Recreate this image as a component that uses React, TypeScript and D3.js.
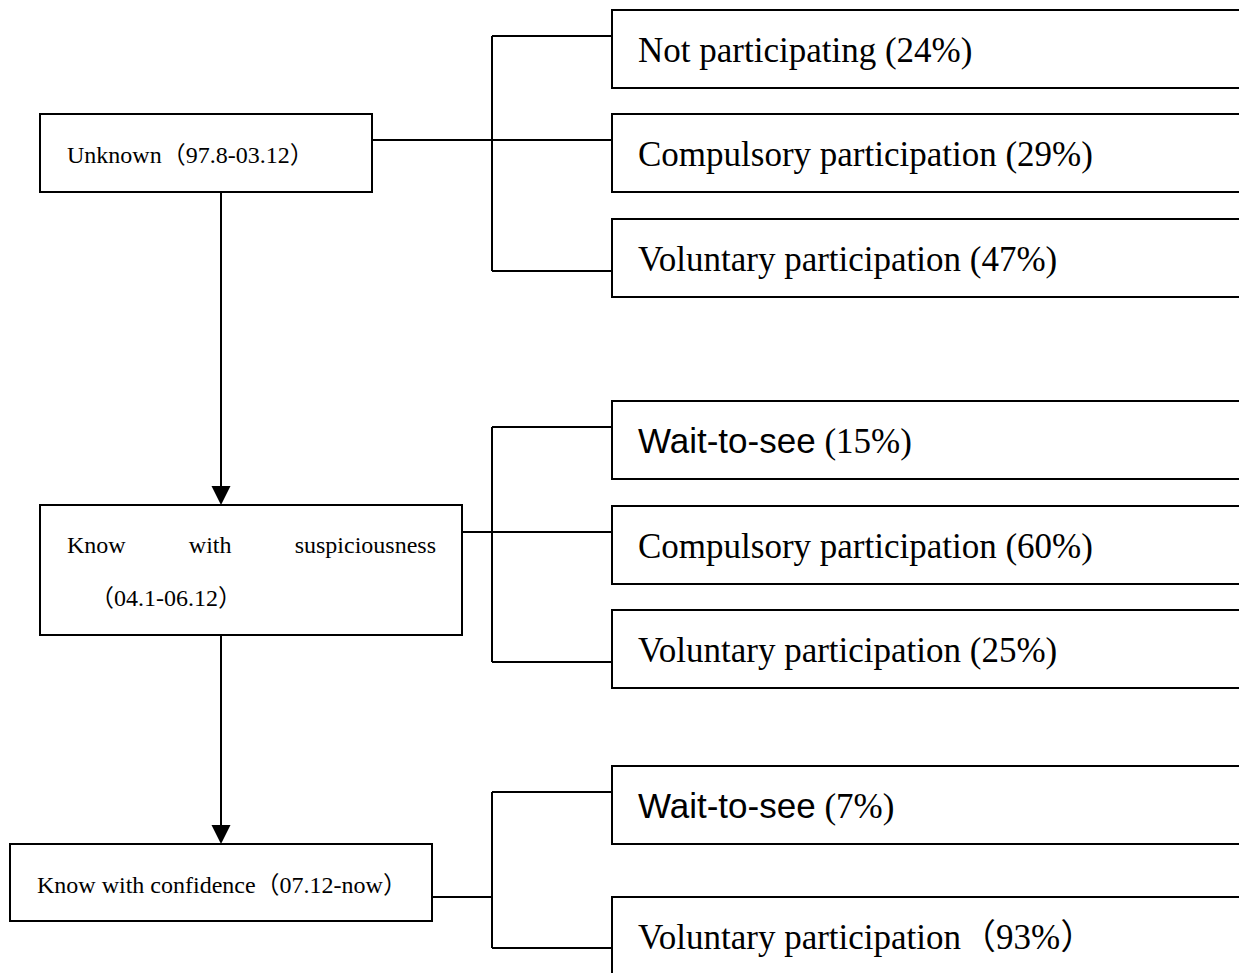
import React from "react";
import * as d3 from "d3";

// ---- data ----
const stageNames = ["Unknown", "Know with suspiciousness", "Know with confidence"];
const stagePeriods = ["97.8-03.12", "04.1-06.12", "07.12-now"];
const outcomeNames = [
  ["Not participating", "Compulsory participation", "Voluntary participation"],
  ["Wait-to-see", "Compulsory participation", "Voluntary participation"],
  ["Wait-to-see", "Voluntary participation"],
];
const outcomeShares = [
  [24, 29, 47],
  [15, 60, 25],
  [7, 93],
];
// last stage uses full-width brackets in the original
const fullWidthBrackets = [false, false, true];

// ---- layout ----
const W = 1239;
const H = 973;
const SERIF = "'Times New Roman', 'Liberation Serif', 'Noto Sans CJK SC', serif";
const SANS = "Arial, 'Liberation Sans', sans-serif";
const stageBoxes = [
  { x: 40, y: 114, w: 332, h: 78, lines: 1 },
  { x: 40, y: 505, w: 422, h: 130, lines: 2 },
  { x: 10, y: 844, w: 422, h: 77, lines: 1 },
];
const stageLinkY = [140, 532, 897];
const outcomeTops = [
  [10, 114, 219],
  [401, 506, 610],
  [766, 897],
];
const outcomeLinkY = [
  [36, 140, 271],
  [427, 532, 662],
  [792, 948],
];
const bracketX = 492;
const outX = 612;
const outH = 78;
const arrowX = 221;

function measure(text: string, font: string) {
  const c = document.createElement("canvas").getContext("2d");
  if (!c) return text.length * 12;
  c.font = font;
  return c.measureText(text).width;
}

export default function App() {
  const line = d3.line<[number, number]>();
  const leftFont = 24;
  const rightFont = 35;

  const arrowHead = (tipY: number) => {
    const p = d3.path();
    p.moveTo(arrowX, tipY);
    p.lineTo(arrowX - 9.5, tipY - 19);
    p.lineTo(arrowX + 9.5, tipY - 19);
    p.closePath();
    return p.toString();
  };

  return (
    <svg
      width={W}
      height={H}
      style={{ position: "absolute", left: 0, top: 0, background: "#fff" }}
    >
      {/* arrows between stages */}
      {stageBoxes.slice(0, -1).map((b, i) => {
        const next = stageBoxes[i + 1];
        return (
          <g key={"arr" + i}>
            <path
              d={line([[arrowX, b.y + b.h], [arrowX, next.y - 18]]) || ""}
              stroke="#000"
              strokeWidth={2}
              fill="none"
            />
            <path d={arrowHead(next.y)} fill="#000" />
          </g>
        );
      })}

      {stageBoxes.map((b, i) => {
        const ys = outcomeLinkY[i];
        const top = d3.min(ys) as number;
        const bot = d3.max(ys) as number;
        return (
          <g key={"st" + i}>
            {/* bracket */}
            <path
              d={line([[b.x + b.w, stageLinkY[i]], [bracketX, stageLinkY[i]]]) || ""}
              stroke="#000"
              strokeWidth={2}
              fill="none"
            />
            <path
              d={line([[bracketX, top], [bracketX, bot]]) || ""}
              stroke="#000"
              strokeWidth={2}
              fill="none"
            />
            {ys.map((y, j) => (
              <path
                key={j}
                d={line([[bracketX, y], [outX, y]]) || ""}
                stroke="#000"
                strokeWidth={2}
                fill="none"
              />
            ))}
            {/* stage box */}
            <rect x={b.x} y={b.y} width={b.w} height={b.h} fill="#fff" stroke="#000" strokeWidth={2} />
            {b.lines === 1 ? (
              <text
                x={b.x + 27}
                y={b.y + 49}
                fontFamily={SERIF}
                fontSize={leftFont}
                fill="#000"
              >
                {stageNames[i] + "（" + stagePeriods[i] + "）"}
              </text>
            ) : (
              (() => {
                const words = stageNames[i].split(" ");
                const font = `${leftFont}px ${SERIF}`;
                const widths = words.map((w) => measure(w, font));
                const x0 = b.x + 27;
                const x1 = b.x + b.w - 26;
                const gap = (x1 - x0 - d3.sum(widths)) / (words.length - 1);
                let cx = x0;
                const items = words.map((w, k) => {
                  const el = (
                    <text key={k} x={cx} y={b.y + 48} fontFamily={SERIF} fontSize={leftFont} fill="#000">
                      {w}
                    </text>
                  );
                  cx += widths[k] + gap;
                  return el;
                });
                return (
                  <g>
                    {items}
                    <text x={b.x + 50} y={b.y + 101} fontFamily={SERIF} fontSize={leftFont} fill="#000">
                      {"（" + stagePeriods[i] + "）"}
                    </text>
                  </g>
                );
              })()
            )}

            {/* outcome boxes */}
            {outcomeTops[i].map((t, j) => {
              const name = outcomeNames[i][j];
              const share = outcomeShares[i][j];
              const isLast = i === stageBoxes.length - 1 && j === outcomeTops[i].length - 1;
              const pct = fullWidthBrackets[i] && name !== "Wait-to-see"
                ? "（" + share + "%）"
                : " (" + share + "%)";
              const sans = name === "Wait-to-see";
              return (
                <g key={"o" + j}>
                  <rect
                    x={outX}
                    y={t}
                    width={700}
                    height={isLast ? 120 : outH}
                    fill="#fff"
                    stroke="#000"
                    strokeWidth={2}
                  />
                  <text x={outX + 26} y={t + 52} fontSize={rightFont} fill="#000" fontFamily={SERIF}>
                    <tspan fontFamily={sans ? SANS : SERIF}>{name}</tspan>
                    <tspan>{pct}</tspan>
                  </text>
                </g>
              );
            })}
          </g>
        );
      })}
    </svg>
  );
}
